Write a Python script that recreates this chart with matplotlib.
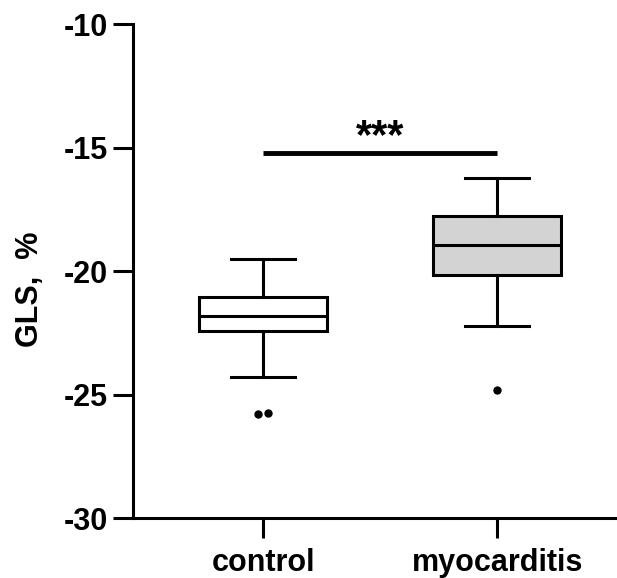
import matplotlib
matplotlib.use("Agg")
import matplotlib.pyplot as plt
import numpy as np

plt.rcParams['font.family'] = ['Liberation Sans', 'DejaVu Sans']
plt.rcParams['font.weight'] = 'bold'
plt.rcParams['axes.unicode_minus'] = False

# summary statistics
groups = ['control', 'myocarditis']
whis_lo = [-24.30, -22.21]
q1 = [-22.42, -20.17]
median = [-21.83, -18.92]
q3 = [-21.04, -17.77]
whis_hi = [-19.51, -16.21]
fliers = [[-25.79, -25.72], [-24.82]]
box_colors = ['white', '#d3d3d3']
sig_y = -15.23
sig_text = '***'

fig = plt.figure(figsize=(6.17, 5.78), dpi=100)
ax = fig.add_axes([0.216, 0.1033, 0.784, 0.855])

positions = np.arange(1, len(groups) + 1)
stats = []
for i in range(len(groups)):
    stats.append(dict(med=median[i], q1=q1[i], q3=q3[i],
                      whislo=whis_lo[i], whishi=whis_hi[i], fliers=[]))

lw = 2.2
bp = ax.bxp(stats, positions=positions, widths=0.547, patch_artist=True,
            showfliers=False,
            boxprops=dict(linewidth=lw, edgecolor='black'),
            medianprops=dict(linewidth=lw, color='black'),
            whiskerprops=dict(linewidth=lw, color='black'),
            capprops=dict(linewidth=lw, color='black'))
for patch, c in zip(bp['boxes'], box_colors):
    patch.set_facecolor(c)

# outliers, spread slightly side by side
for pos, vals in zip(positions, fliers):
    n = len(vals)
    offs = (np.arange(n) - (n - 1) / 2) * 0.042
    ax.plot(pos + offs, vals, 'o', color='black', markersize=5, zorder=3)

# significance bar
ax.plot([positions[0], positions[1]], [sig_y, sig_y], color='black',
        linewidth=3.5, solid_capstyle='butt')
ax.text(positions.mean(), sig_y - 0.15, sig_text, ha='center', va='bottom',
        fontsize=30, fontweight='bold')

ax.set_xlim(0.444, 2.512)
ax.set_ylim(-30, -10)
ax.set_yticks([-30, -25, -20, -15, -10])
ax.set_xticks(positions)
ax.set_xticklabels(groups)
ax.set_ylabel('GLS,  %', fontsize=22, fontweight='bold')
ax.yaxis.set_label_coords(-0.183, 0.464)

for s in ['top', 'right']:
    ax.spines[s].set_visible(False)
for s in ['left', 'bottom']:
    ax.spines[s].set_linewidth(lw)
ax.tick_params(axis='both', length=14.4, width=lw, labelsize=22)
ax.tick_params(axis='x', pad=7)
ax.tick_params(axis='y', pad=4)

fig.savefig('out.png', dpi=100)
